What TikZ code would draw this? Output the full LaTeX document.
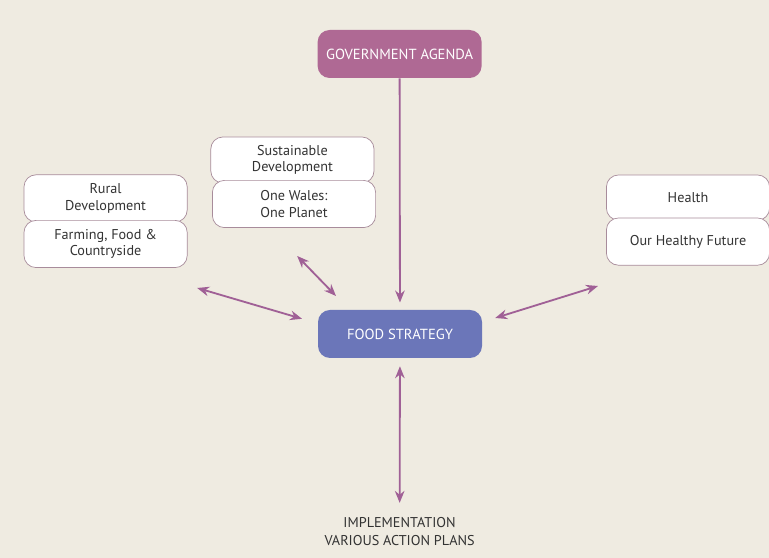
\documentclass[tikz,border=0pt]{standalone}
\usepackage{fontspec}
\setmainfont{PT Sans}
\usepackage{xcolor}
\usepackage{tikz}
\usetikzlibrary{arrows.meta, positioning}
\definecolor{bgbeige}{HTML}{EFEBE1}
\definecolor{govmauve}{HTML}{AF6994}
\definecolor{foodblue}{HTML}{6B76B9}
\definecolor{arrowmauve}{HTML}{A06096}
\definecolor{boxline}{HTML}{A88C9B}
\definecolor{textgrey}{HTML}{333333}

\begin{document}
\begin{tikzpicture}[
        mainnode/.style={rectangle, rounded corners=0.3cm, draw=none, text=white, minimum width=4.1cm, minimum height=1.2cm, align=center, font=\fontsize{10.4}{12}\selectfont},
        linknode/.style={rectangle, rounded corners=0.3cm, draw=boxline, fill=white, line width=0.5pt, text=textgrey, minimum width=4.08cm, minimum height=1.18cm, align=center, font=\fontsize{10.1}{11.8}\selectfont},
        arrowstyle/.style={{Stealth[length=3mm, width=2.4mm]}-{Stealth[length=3mm, width=2.4mm]}, line width=1.3pt, color=arrowmauve}
    ]
        % Background
        \fill[bgbeige] (0,0) rectangle (19.225,13.95);
        \useasboundingbox (0,0) rectangle (19.225,13.95);

        % Centre Column
        \node[mainnode, fill=govmauve] (gov) at (9.99, 12.6) {GOVERNMENT AGENDA};
        \node[mainnode, fill=foodblue] (food) at (10.0, 5.6) {FOOD STRATEGY};
        \node[text=textgrey, align=center, font=\fontsize{10.1}{12.8}\selectfont] (impl) at (9.99, 0.65) {IMPLEMENTATION\\VARIOUS ACTION PLANS};

        % Left Column
        \node[linknode] (rural) at (2.64, 8.99) {Rural\\Development};
        \node[linknode] (farming) at (2.64, 7.85) {Farming, Food \&\\Countryside};

        % Middle Column
        \node[linknode, minimum height=1.15cm] (susdev) at (7.31, 9.95) {Sustainable\\Development};
        \node[linknode] (wales) at (7.35, 8.85) {One Wales:\\One Planet};

        % Right Column
        \node[linknode, minimum height=1.13cm] (health) at (17.2, 9.01) {Health};
        \node[linknode] (future) at (17.2, 7.91) {Our Healthy Future};

        % Free arrow ends
        \coordinate (farmingend) at (4.93, 6.75);
        \coordinate (foodleft) at (7.55, 5.98);
        \coordinate (walesend) at (7.43, 7.55);
        \coordinate (foodupleft) at (8.4, 6.55);
        \coordinate (foodright) at (12.38, 6.0);
        \coordinate (futureend) at (14.95, 6.8);

        % Links
        \draw[-{Stealth[length=3mm, width=2.4mm]}, line width=1.3pt, color=arrowmauve, shorten >=0.18cm] (gov) -- (food);
        \draw[arrowstyle, shorten <=0.2cm, shorten >=0.25cm] (food) -- (impl);
        \draw[arrowstyle] (farmingend) -- (foodleft);
        \draw[arrowstyle] (walesend) -- (foodupleft);
        \draw[arrowstyle] (foodright) -- (futureend);
    \end{tikzpicture}
\end{document}
